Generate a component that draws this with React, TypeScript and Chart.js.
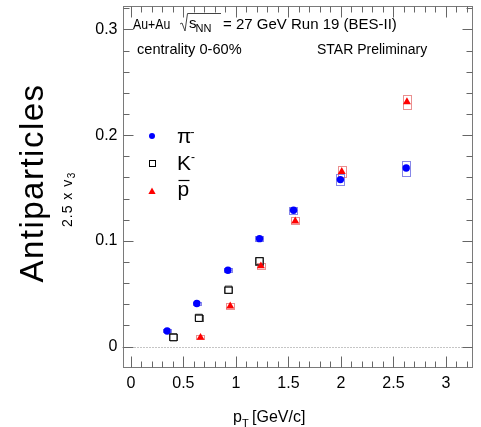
import React, { useEffect, useRef } from "react";
import { Chart, registerables } from "chart.js";

Chart.register(...registerables);

const FONT = '"Liberation Sans", Arial, Helvetica, sans-serif';

// pi- (blue circles)
const piPt = [0.345, 0.628, 0.924, 1.225, 1.549, 1.995, 2.622];
const piV = [0.0148, 0.0408, 0.0722, 0.1021, 0.129, 0.158, 0.169];
const piSys = [0.0015, 0.0015, 0.002, 0.0025, 0.0035, 0.005, 0.007];

// K- (open squares)
const kPt = [0.405, 0.647, 0.93, 1.225];
const kV = [0.0088, 0.0272, 0.0538, 0.0807];
const kSys = [0.003, 0.003, 0.003, 0.004];

// anti-proton (red triangles)
const pbarPt = [0.663, 0.946, 1.238, 1.565, 2.008, 2.629];
const pbarV = [0.0086, 0.0382, 0.0762, 0.1187, 0.1655, 0.2315];
const pbarSys = [0.002, 0.003, 0.003, 0.0035, 0.005, 0.0066];

const sysHalfWidth = 0.04;

const xTickValues = [0, 0.5, 1, 1.5, 2, 2.5, 3];
const yTickValues = [0, 0.1, 0.2, 0.3];
const xMinorStep = 0.1;
const yMinorStep = 0.02;

const X_MIN = -0.08;
const X_MAX = 3.258;
const Y_MIN = -0.0193;
const Y_MAX = 0.3222;

const toPoints = (xs: number[], ys: number[]) => xs.map((v, i) => ({ x: v, y: ys[i] }));

const decorPlugin = {
  id: "decor",
  beforeDatasetsDraw(chart: any) {
    const { ctx, chartArea: a, scales } = chart;
    const xs = scales.x;
    const ys = scales.y;
    ctx.save();
    // dotted zero line
    const y0 = Math.round(ys.getPixelForValue(0)) + 0.5;
    ctx.strokeStyle = "#8a8a8a";
    ctx.lineWidth = 1;
    ctx.setLineDash([1, 2]);
    ctx.beginPath();
    ctx.moveTo(a.left, y0);
    ctx.lineTo(a.right, y0);
    ctx.stroke();
    ctx.setLineDash([]);

    const boxes = (pts: number[], vals: number[], sys: number[], color: string) => {
      ctx.strokeStyle = color;
      ctx.lineWidth = 1;
      pts.forEach((p, i) => {
        const x1 = xs.getPixelForValue(p - sysHalfWidth);
        const x2 = xs.getPixelForValue(p + sysHalfWidth);
        const y1 = ys.getPixelForValue(vals[i] + sys[i]);
        const y2 = ys.getPixelForValue(vals[i] - sys[i]);
        ctx.strokeRect(Math.round(x1) + 0.5, Math.round(y1) + 0.5, Math.round(x2 - x1), Math.round(y2 - y1));
      });
    };
    boxes(piPt, piV, piSys, "rgba(70,70,220,0.65)");
    boxes(kPt, kV, kSys, "rgba(40,40,40,0.75)");
    boxes(pbarPt, pbarV, pbarSys, "rgba(220,70,70,0.6)");
    ctx.restore();
  },
  afterDraw(chart: any) {
    const { ctx, chartArea: a, scales } = chart;
    const xs = scales.x;
    const ys = scales.y;
    ctx.save();
    const L = Math.round(a.left) + 0.5;
    const R = Math.round(a.right) - 0.5;
    const T = Math.round(a.top) + 0.5;
    const B = Math.round(a.bottom) + 0.5;
    // frame
    ctx.strokeStyle = "#7a7a7a";
    ctx.lineWidth = 1;
    ctx.strokeRect(L, T, R - L, B - T);
    // ticks
    ctx.strokeStyle = "#666";
    ctx.beginPath();
    for (let i = 0; ; i++) {
      const v = i * xMinorStep;
      if (v > X_MAX) break;
      const major = xTickValues.some((t) => Math.abs(t - v) < 1e-6);
      const len = major ? 11 : 6;
      const px = Math.round(xs.getPixelForValue(v)) + 0.5;
      ctx.moveTo(px, B);
      ctx.lineTo(px, B - len);
      ctx.moveTo(px, T);
      ctx.lineTo(px, T + len);
    }
    for (let i = 0; ; i++) {
      const v = i * yMinorStep;
      if (v > Y_MAX) break;
      const major = yTickValues.some((t) => Math.abs(t - v) < 1e-6);
      const len = major ? 10 : 6;
      const py = Math.round(ys.getPixelForValue(v)) + 0.5;
      ctx.moveTo(L, py);
      ctx.lineTo(L + len, py);
      ctx.moveTo(R, py);
      ctx.lineTo(R - len, py);
    }
    ctx.stroke();

    ctx.fillStyle = "#000";
    ctx.textAlign = "left";
    ctx.textBaseline = "alphabetic";
    // header
    ctx.font = `15px ${FONT}`;
    ctx.save();
    ctx.translate(133, 29);
    ctx.scale(0.82, 1);
    ctx.fillText("Au+Au", 0, 0);
    ctx.restore();
    ctx.strokeStyle = "#444";
    ctx.beginPath();
    ctx.moveTo(180, 24);
    ctx.lineTo(182, 23);
    ctx.lineTo(185, 31);
    ctx.lineTo(187.5, 13.5);
    ctx.lineTo(221, 13.5);
    ctx.stroke();
    ctx.fillText("s", 189, 28);
    ctx.font = `11px ${FONT}`;
    ctx.fillText("NN", 195.5, 32);
    ctx.font = `15px ${FONT}`;
    ctx.fillText("= 27 GeV Run 19 (BES-II)", 223, 29);

    ctx.font = `14.6px ${FONT}`;
    ctx.fillText("centrality 0-60%", 137, 54);
    ctx.font = `14px ${FONT}`;
    ctx.fillText("STAR Preliminary", 317, 54);

    // legend
    ctx.fillStyle = "#0000ff";
    ctx.beginPath();
    ctx.arc(152, 136, 3, 0, Math.PI * 2);
    ctx.fill();
    ctx.strokeStyle = "#000";
    ctx.strokeRect(149.5, 160.5, 6, 6);
    ctx.fillStyle = "#ff0000";
    ctx.beginPath();
    ctx.moveTo(152, 187.5);
    ctx.lineTo(155.6, 194);
    ctx.lineTo(148.4, 194);
    ctx.closePath();
    ctx.fill();

    ctx.fillStyle = "#000";
    ctx.font = `21px ${FONT}`;
    ctx.fillText("\u03C0", 177, 143);
    ctx.fillText("K", 177, 170);
    ctx.fillText("p", 177.5, 195.5);
    ctx.font = `12px ${FONT}`;
    ctx.fillText("-", 190.5, 136);
    ctx.fillText("-", 191, 161);
    ctx.strokeStyle = "#000";
    ctx.lineWidth = 1.2;
    ctx.beginPath();
    ctx.moveTo(178.5, 180.5);
    ctx.lineTo(189.5, 180.5);
    ctx.stroke();
    ctx.lineWidth = 1;

    // x title
    ctx.font = `16px ${FONT}`;
    ctx.fillText("p", 233, 421.5);
    ctx.font = `11px ${FONT}`;
    ctx.fillText("T", 242, 426.5);
    ctx.font = `16px ${FONT}`;
    ctx.fillText("[GeV/c]", 252, 421.5);

    // y title
    ctx.save();
    ctx.translate(43, 183);
    ctx.rotate(-Math.PI / 2);
    ctx.font = `33px ${FONT}`;
    (ctx as any).letterSpacing = "1.5px";
    ctx.textAlign = "center";
    ctx.fillText("Antiparticles", 0, 0);
    ctx.restore();

    ctx.save();
    ctx.translate(72, 227);
    ctx.rotate(-Math.PI / 2);
    (ctx as any).letterSpacing = "1px";
    ctx.font = `14px ${FONT}`;
    ctx.textAlign = "left";
    ctx.fillText("2.5 x v", 0, 0);
    const w = ctx.measureText("2.5 x v").width;
    ctx.font = `10px ${FONT}`;
    ctx.fillText("3", w + 0.5, 3);
    ctx.restore();

    ctx.restore();
  },
};

export default function App() {
  const ref = useRef<HTMLCanvasElement | null>(null);
  useEffect(() => {
    if (!ref.current) return;
    const chart = new Chart(ref.current, {
      type: "scatter",
      data: {
        datasets: [
          {
            label: "pbar",
            data: toPoints(pbarPt, pbarV),
            pointStyle: "triangle",
            pointRadius: 4.6,
            backgroundColor: "#ff0000",
            borderColor: "#ff0000",
            borderWidth: 0,
          },
          {
            label: "K-",
            data: toPoints(kPt, kV),
            pointStyle: "rect",
            pointRadius: 5,
            backgroundColor: "rgba(0,0,0,0)",
            borderColor: "#000",
            borderWidth: 1,
          },
          {
            label: "pi-",
            data: toPoints(piPt, piV),
            pointStyle: "circle",
            pointRadius: 3.7,
            backgroundColor: "#0000ff",
            borderColor: "#0000ff",
            borderWidth: 0,
          },
        ],
      },
      options: {
        responsive: false,
        animation: false,
        events: [],
        layout: { padding: { left: 0, right: 8, top: 5, bottom: 0 } },
        plugins: { legend: { display: false }, tooltip: { enabled: false } },
        scales: {
          x: {
            type: "linear",
            min: X_MIN,
            max: X_MAX,
            grid: { display: false, drawTicks: false },
            border: { display: false },
            afterBuildTicks: (s: any) => {
              s.ticks = xTickValues.map((v) => ({ value: v }));
            },
            afterFit: (s: any) => {
              s.height = 60;
              s.paddingLeft = 0;
              s.paddingRight = 0;
            },
            ticks: {
              autoSkip: false,
              maxRotation: 0,
              padding: 7,
              color: "#000",
              font: { family: FONT, size: 16 },
              callback: (v: any) => String(v),
            },
          },
          y: {
            type: "linear",
            min: Y_MIN,
            max: Y_MAX,
            grid: { display: false, drawTicks: false },
            border: { display: false },
            afterBuildTicks: (s: any) => {
              s.ticks = yTickValues.map((v) => ({ value: v }));
            },
            afterFit: (s: any) => {
              s.width = 122.5;
              s.paddingTop = 0;
              s.paddingBottom = 0;
            },
            ticks: {
              autoSkip: false,
              padding: 5,
              color: "#000",
              font: { family: FONT, size: 16 },
              callback: (v: any) => String(v),
            },
          },
        },
      },
      plugins: [decorPlugin],
    });
    return () => chart.destroy();
  }, []);
  return (
    <div style={{ position: "absolute", left: 0, top: 0, width: 481, height: 427 }}>
      <canvas ref={ref} width={481} height={427} style={{ display: "block" }} />
    </div>
  );
}
